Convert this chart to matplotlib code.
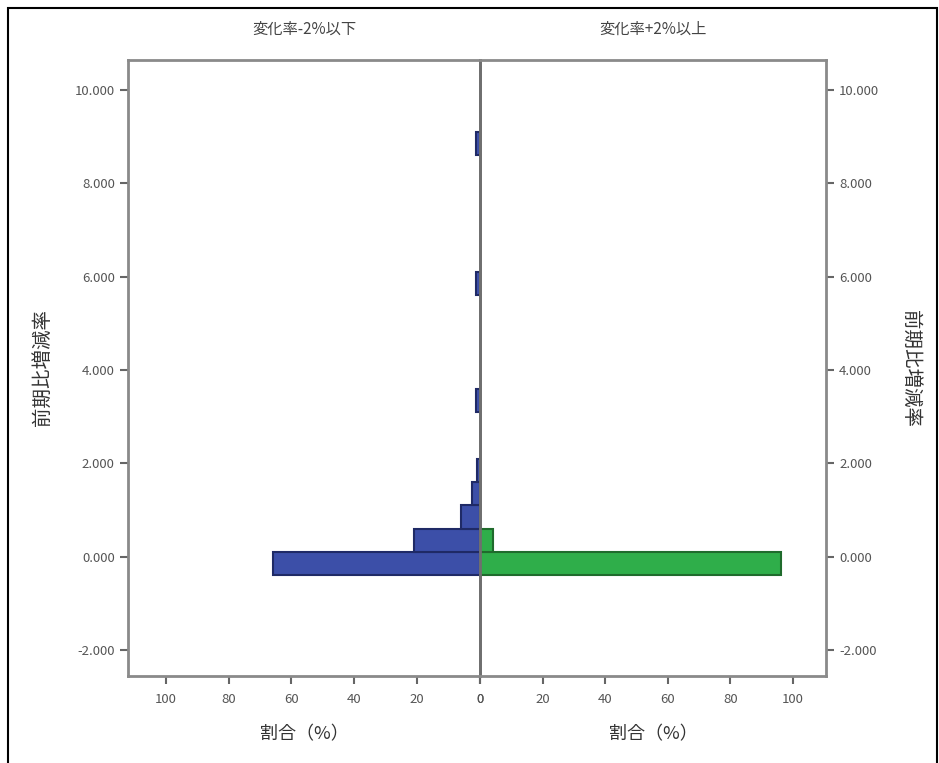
import numpy as np
import matplotlib.pyplot as plt
from matplotlib.patches import Rectangle

plt.rcParams['font.family'] = ['Noto Sans CJK JP', 'DejaVu Sans']

# histogram bins (lower edges), width 0.5
bin_lower = [-0.4, 0.1, 0.6, 1.1, 1.6, 3.1, 5.6, 8.6]
bin_width = 0.5
pct_minus = [66, 21, 6, 2.5, 1.0, 1.2, 1.2, 1.2]   # 変化率-2%以下
pct_plus = [96, 4, 0, 0, 0, 0, 0, 0]               # 変化率+2%以上

titles = ["変化率-2%以下", "変化率+2%以上"]
ylabel = "前期比増減率"
xlabel = "割合（%）"
yticks = [-2, 0, 2, 4, 6, 8, 10]
xticks = [0, 20, 40, 60, 80, 100]

W, H = 939, 763
fig = plt.figure(figsize=(W / 100, H / 100), dpi=100)

def box(x0, y0, x1, y1):
    return [x0 / W, 1 - y1 / H, (x1 - x0) / W, (y1 - y0) / H]

axl = fig.add_axes(box(128, 60, 480, 676))
axr = fig.add_axes(box(480, 60, 826, 676), sharey=axl)
axr.patch.set_visible(False)

spine_c = "#8a8a8a"
tick_c = "#666666"
centers = np.array(bin_lower) + bin_width / 2

def draw(ax, pct, face, edge):
    y = [c for c, p in zip(centers, pct) if p > 0]
    w = [p for p in pct if p > 0]
    ax.barh(y, w, height=bin_width, color=face, edgecolor=edge, linewidth=1.5)

draw(axl, pct_minus, "#3c4fa8", "#1f2a66")
draw(axr, pct_plus, "#2fae4a", "#1f6b2c")

axl.set_xlim(112, 0)
axr.set_xlim(0, 110.5)
axl.set_ylim(-2.56, 10.64)

for ax in (axl, axr):
    for s in ax.spines.values():
        s.set_color(spine_c)
        s.set_linewidth(2)
    ax.set_xticks(xticks)
    ax.tick_params(axis="x", direction="out", length=6, width=1.5,
                   color=tick_c, labelsize=9.5, labelcolor="#555555", pad=6)
    ax.set_xlabel(xlabel, fontsize=13, color="#333333", labelpad=14)

# centre divider
axl.spines["right"].set_color("#6f6f6f")
axl.spines["right"].set_zorder(5)
axr.spines["left"].set_color("#6f6f6f")

axl.set_yticks(yticks)
axl.yaxis.set_major_formatter(plt.FuncFormatter(lambda v, p: f"{v:.3f}"))
axl.tick_params(axis="y", direction="out", length=6, width=1.5,
                color=tick_c, labelsize=9.5, labelcolor="#555555")
axr.yaxis.tick_right()
axr.tick_params(axis="y", which="both", direction="out", length=6, width=1.5,
                color=tick_c, labelsize=9.5, labelcolor="#555555",
                labelright=True, labelleft=False, left=False, right=True)

axl.set_title(titles[0], fontsize=11, color="#444444", pad=19)
axr.set_title(titles[1], fontsize=11, color="#444444", pad=19)

axl.set_ylabel(ylabel, fontsize=14, color="#333333", labelpad=16)
axr.yaxis.set_label_position("right")
axr.set_ylabel(ylabel, fontsize=14, color="#333333", rotation=270, labelpad=30)

# outer frame
fig.patches.append(Rectangle((8 / W, -0.01), (W - 10) / W, 1 - 8 / H + 0.01,
                             transform=fig.transFigure, fill=False,
                             edgecolor="black", linewidth=1.5))

fig.savefig("out.png", dpi=100)
